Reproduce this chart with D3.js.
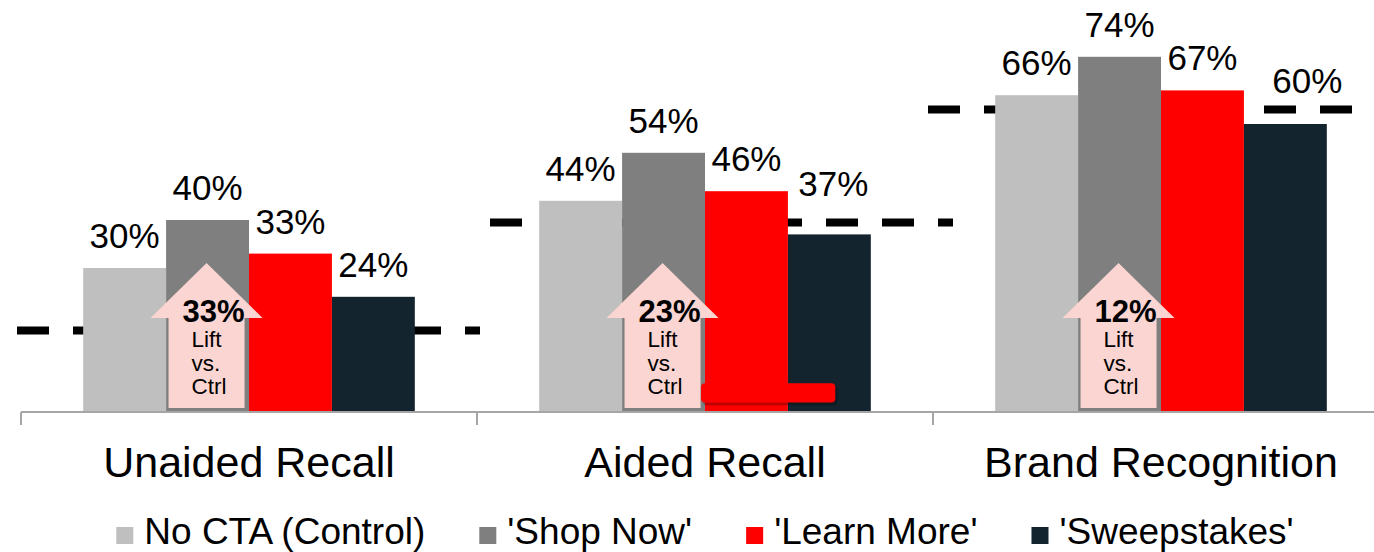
<!DOCTYPE html>
<html>
<head>
	<meta charset="utf-8">
	<title></title>
	<style>
		html, body {
			margin: 0;
			padding: 0;
			background: white;
			font-family: "Liberation Sans", Arial, sans-serif;
		}
		svg { display: block; }
	</style>
</head>
<body>

<svg class="chart" width="1374" height="552"></svg>

<script src="https://d3js.org/d3.v7.min.js"></script>
<script>

// data
var categories = ['Unaided Recall', 'Aided Recall', 'Brand Recognition']
var series = ['No CTA (Control)', "'Shop Now'", "'Learn More'", "'Sweepstakes'"]
var colors = ['#bfbfbf', '#7f7f7f', '#ff0000', '#13242f']

var noCta = [30, 44, 66]
var shopNow = [40, 54, 74]
var learnMore = [33, 46, 67]
var sweepstakes = [24, 37, 60]

var benchmarks = [17, 39.5, 63]      // dashed norm lines
var lifts = ['33%', '23%', '12%']    // lift of 'Shop Now' vs control

var values = [noCta, shopNow, learnMore, sweepstakes]

// layout
var cfg = {
	left: 21,
	bandWidth: 456,
	baseline: 412,
	top: 28,
	yMax: 80,

	valueSize: 35,
	catSize: 43,
	legendSize: 37,

	dashOffset: [-4, 13, -5],   // where each norm line starts, from band start
	dashLength: 463,
}

var svg = d3.select('.chart')

var x0 = d3.scaleBand()
	.domain(categories)
	.range([cfg.left, cfg.left + cfg.bandWidth * categories.length])

var x1 = d3.scaleBand()
	.domain(series)
	.range([0, x0.bandwidth()])
	.paddingInner(0)
	.paddingOuter(0.75)

var y = d3.scaleLinear()
	.domain([0, cfg.yMax])
	.range([cfg.baseline, cfg.top])

// rows for the bars
var rows = []
categories.forEach(function(c, ci) {
	series.forEach(function(s, si) {
		rows.push({ cat: c, ci: ci, ser: s, si: si, v: values[si][ci] })
	})
})

// norm lines sit behind the bars
svg.append('g').selectAll('line')
	.data(benchmarks)
	.enter().append('line')
		.attr('x1', function(d, i) { return x0(categories[i]) + cfg.dashOffset[i] })
		.attr('x2', function(d, i) { return x0(categories[i]) + cfg.dashOffset[i] + cfg.dashLength })
		.attr('y1', function(d) { return y(d) })
		.attr('y2', function(d) { return y(d) })
		.attr('stroke', '#000')
		.attr('stroke-width', 8)
		.attr('stroke-dasharray', '32,24')

// bars
svg.append('g').selectAll('rect')
	.data(rows)
	.enter().append('rect')
		.attr('x', function(d) { return x0(d.cat) + x1(d.ser) })
		.attr('y', function(d) { return y(d.v) })
		.attr('width', x1.bandwidth())
		.attr('height', function(d) { return y(0) - y(d.v) })
		.attr('fill', function(d) { return colors[d.si] })

// stray red shape sitting on the Aided Recall group
var stray = svg.append('g')
var strayX = x0(categories[1]) + x1(series[2]) - 4
var strayW = x1.bandwidth() * 1.62
stray.append('rect')
	.attr('x', strayX + 2).attr('y', y(6) + 3)
	.attr('width', strayW).attr('height', y(2) - y(6))
	.attr('rx', 4)
	.attr('fill', '#000').attr('opacity', 0.25)
stray.append('rect')
	.attr('x', strayX).attr('y', y(6))
	.attr('width', strayW).attr('height', y(2) - y(6))
	.attr('rx', 4)
	.attr('fill', '#ff0000')

// value labels
var nudge = { '1,3': [4, 18], '2,3': [22, 11] }
svg.append('g').selectAll('text')
	.data(rows)
	.enter().append('text')
		.attr('text-anchor', 'middle')
		.attr('font-size', cfg.valueSize)
		.attr('x', function(d) {
			var n = nudge[d.ci + ',' + d.si] || [0, 0]
			return x0(d.cat) + x1(d.ser) + x1.bandwidth() / 2 + n[0]
		})
		.attr('y', function(d) {
			var n = nudge[d.ci + ',' + d.si] || [0, 0]
			return y(d.v) - 20 - n[1]
		})
		.text(function(d) { return d.v + '%' })

// lift arrows over the 'Shop Now' bars
var arrows = svg.append('g').selectAll('g')
	.data(lifts)
	.enter().append('g')
		.attr('transform', function(d, i) {
			var cx = x0(categories[i]) + x1(series[1]) + x1.bandwidth() / 2 - 1
			return 'translate(' + cx + ',' + cfg.baseline + ')'
		})

arrows.append('path')
	.attr('d', 'M0,-149 L56,-94 L38,-94 L38,-4 L-38,-4 L-38,-94 L-56,-94 Z')
	.attr('fill', '#fad5d2')

arrows.append('text')
	.attr('x', 7).attr('y', -90)
	.attr('text-anchor', 'middle')
	.attr('font-size', 31)
	.attr('font-weight', 'bold')
	.text(function(d) { return d })

;['Lift', 'vs.', 'Ctrl'].forEach(function(t, k) {
	arrows.append('text')
		.attr('x', -15).attr('y', -65 + k * 23.5)
		.attr('font-size', 22.5)
		.text(t)
})

// axis
var axis = svg.append('g').attr('transform', 'translate(0,' + y(0) + ')')
axis.append('line')
	.attr('x1', x0.range()[0]).attr('x2', x0.range()[1])
	.attr('stroke', '#a6a6a6').attr('stroke-width', 2)
axis.selectAll('.tick')
	.data(categories)
	.enter().append('line')
		.attr('x1', function(c) { return x0(c) }).attr('x2', function(c) { return x0(c) })
		.attr('y1', 0).attr('y2', 13)
		.attr('stroke', '#a6a6a6').attr('stroke-width', 2)

svg.append('g').selectAll('text')
	.data(categories)
	.enter().append('text')
		.attr('text-anchor', 'middle')
		.attr('x', function(c) { return x0(c) + x0.bandwidth() / 2 })
		.attr('y', 477)
		.attr('font-size', cfg.catSize)
		.text(function(c) { return c })

// legend, centred under the plot
var legend = svg.append('g')
var items = legend.selectAll('g')
	.data(series)
	.enter().append('g')

items.append('rect')
	.attr('width', 17).attr('height', 17)
	.attr('y', 527)
	.attr('fill', function(d, i) { return colors[i] })

items.append('text')
	.attr('x', 28).attr('y', 544)
	.attr('font-size', cfg.legendSize)
	.text(function(d) { return d })

var pos = 0
items.each(function() {
	var g = d3.select(this)
	g.attr('transform', 'translate(' + pos + ',0)')
	pos += 28 + g.select('text').node().getComputedTextLength() + 54
})
var total = pos - 54
var mid = (x0.range()[0] + x0.range()[1]) / 2
legend.attr('transform', 'translate(' + (mid - total / 2) + ',0)')

</script>

</body>
</html>
